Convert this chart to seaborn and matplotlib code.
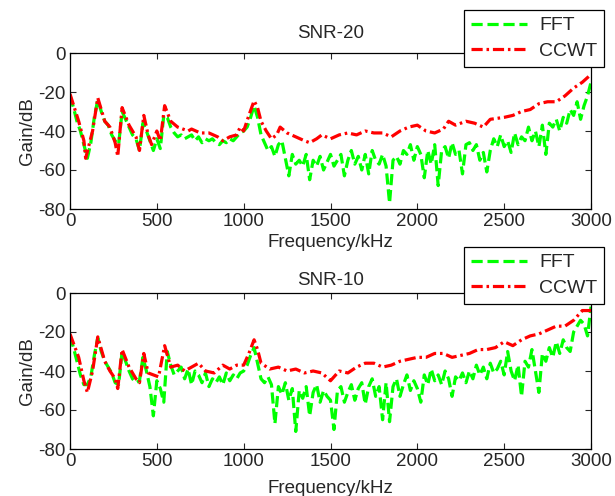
import numpy as np
import pandas as pd
import matplotlib
matplotlib.use("Agg")
import matplotlib.pyplot as plt
import seaborn as sns

# ---------------- data ----------------
freq_fft = list(range(0, 3001, 20))

fft_snr20 = [
    -22, -28, -35, -40, -47, -54, -46, -33, -24, -30,
    -35, -37, -42, -45, -47, -30, -34, -38, -42, -44,
    -50, -36, -40, -45, -50, -44, -49, -32, -33, -38,
    -41, -43, -42, -44, -43, -42, -45, -43, -46, -44,
    -45, -44, -46, -47, -45, -46, -44, -45, -43, -41,
    -40, -38, -33, -27, -33, -42, -46, -50, -48, -53,
    -47, -45, -54, -63, -52, -57, -55, -58, -52, -65,
    -55, -58, -53, -60, -56, -52, -58, -55, -52, -63,
    -55, -50, -57, -53, -60, -52, -62, -50, -55, -57,
    -52, -58, -77, -55, -53, -57, -50, -52, -47, -55,
    -48, -52, -64, -50, -57, -47, -68, -50, -48, -54,
    -46, -52, -50, -62, -47, -46, -50, -47, -55, -51,
    -61, -50, -44, -48, -42, -48, -45, -51, -41, -47,
    -43, -45, -38, -45, -40, -48, -37, -52, -36, -38,
    -34, -40, -33, -36, -29, -32, -25, -34, -27, -22,
    -15,
]

fft_snr10 = [
    -22, -28, -35, -42, -47, -47, -43, -32, -23, -30,
    -35, -38, -41, -46, -47, -30, -35, -40, -44, -46,
    -45, -33, -40, -48, -63, -45, -49, -56, -30, -37,
    -42, -40, -38, -44, -39, -47, -40, -42, -46, -41,
    -48, -44, -46, -43, -47, -41, -45, -42, -44, -41,
    -40, -37, -32, -28, -36, -44, -46, -43, -47, -67,
    -48, -52, -46, -55, -49, -71, -50, -54, -48, -63,
    -51, -47, -56, -50, -53, -55, -70, -50, -48, -56,
    -51, -47, -55, -49, -46, -57, -48, -44, -53, -48,
    -65, -46, -66, -48, -44, -53, -47, -42, -50, -45,
    -49, -56, -42, -47, -39, -45, -42, -47, -40, -44,
    -53, -43, -45, -41, -46, -40, -44, -37, -42, -38,
    -44, -36, -41, -39, -35, -42, -30, -40, -45, -37,
    -53, -35, -38, -29, -40, -51, -31, -35, -28, -33,
    -25, -31, -24, -28, -30, -20, -17, -14, -16, -22,
    -7,
]

freq_ccwt20 = [0, 50, 80, 90, 130, 160, 200, 230, 260, 275, 300, 340, 380, 400,
               425, 450, 470, 500, 520, 545, 580, 620, 680, 700, 750, 800, 850,
               880, 920, 960, 980, 1000, 1030, 1060, 1080, 1100, 1130, 1160,
               1190, 1210, 1250, 1300, 1350, 1380, 1420, 1450, 1500, 1550, 1600,
               1650, 1700, 1750, 1800, 1850, 1900, 1950, 2000, 2050, 2100, 2150,
               2180, 2220, 2280, 2330, 2380, 2420, 2500, 2550, 2600, 2650, 2700,
               2750, 2800, 2850, 2900, 2950, 3000]
ccwt_snr20 = [-21, -35, -45, -54, -40, -23, -35, -38, -46, -53, -28, -37, -43, -50,
              -32, -42, -47, -40, -45, -27, -35, -38, -40, -39, -41, -41, -43,
              -45, -43, -42, -38, -40, -32, -24.5, -28, -35, -40, -44,
              -42, -38, -41, -43, -45, -46, -44, -42, -44, -42, -41,
              -42, -40, -41, -41, -43, -40, -38, -37, -40, -41, -39,
              -35, -37, -35, -36, -38, -34, -33, -32, -30, -29, -26,
              -25, -25, -22, -18, -15, -11]

freq_ccwt10 = [0, 50, 80, 100, 130, 160, 200, 230, 260, 275, 300, 340, 380, 400,
               425, 450, 480, 510, 545, 580, 620, 660, 700, 740, 780, 830, 880,
               920, 960, 1000, 1030, 1060, 1080, 1100, 1150, 1200, 1250, 1300,
               1350, 1400, 1450, 1500, 1550, 1600, 1650, 1700, 1750, 1800, 1850,
               1900, 1950, 2000, 2050, 2100, 2150, 2200, 2250, 2300, 2350, 2400,
               2450, 2500, 2550, 2600, 2650, 2700, 2750, 2800, 2850, 2900, 2950,
               3000]
ccwt_snr10 = [-21, -33, -45, -51, -40, -22.5, -35, -40, -44, -49, -29, -38, -44, -46,
              -31, -41, -42, -43, -27, -38, -37, -40, -38, -36, -40, -41, -37,
              -39, -37, -37, -31, -24, -29, -36, -39, -38, -40, -39,
              -41, -40, -41, -45, -40, -41, -38, -36, -36, -38, -37,
              -35, -34, -33, -33, -31, -31, -33, -32, -31, -29, -29,
              -28, -25, -27, -24, -22, -21, -19, -17, -17, -14, -9,
              -9]

titles = ["SNR-20", "SNR-10"]
series_names = ["FFT", "CCWT"]
xticks = [0, 500, 1000, 1500, 2000, 2500, 3000]
yticks = [0, -20, -40, -60, -80]

# ---------------- style ----------------
sns.set_style("white")
plt.rcParams["font.family"] = ["Liberation Sans", "DejaVu Sans"]
plt.rcParams["font.size"] = 13

W, H = 615, 496
fig = plt.figure(figsize=(W / 100, H / 100), dpi=100)

panels = [
    (fft_snr20, freq_ccwt20, ccwt_snr20, 53, 209, 10),
    (fft_snr10, freq_ccwt10, ccwt_snr10, 293, 449, 247),
]

for i, (fft, fc, cc, ytop, ybot, legtop) in enumerate(panels):
    left = 70 / W
    width = (591 - 70) / W
    bottom = 1 - ybot / H
    height = (ybot - ytop) / H
    ax = fig.add_axes([left, bottom, width, height])
    df_fft = pd.DataFrame({"f": freq_fft, "g": fft})
    df_cc = pd.DataFrame({"f": fc, "g": cc})
    sns.lineplot(data=df_fft, x="f", y="g", ax=ax, color="#00ff00",
                 linestyle=(0, (3.5, 1.5)), linewidth=2.3, label=series_names[0])
    sns.lineplot(data=df_cc, x="f", y="g", ax=ax, color="#ff0000",
                 linestyle=(0, (3.5, 1.2, 0.8, 1.2)), linewidth=2.3, label=series_names[1])
    ax.set_xlim(0, 3000)
    ax.set_ylim(-80, 0)
    ax.set_xticks(xticks)
    ax.set_yticks(yticks)
    ax.set_xticklabels([str(t) for t in xticks], fontsize=13.5)
    ax.set_yticklabels([str(t) for t in yticks], fontsize=13.5)
    ax.tick_params(direction="in", length=4, width=0.8, top=True, right=True,
                   bottom=True, left=True, pad=3)
    for s in ax.spines.values():
        s.set_visible(True)
        s.set_color("black")
        s.set_linewidth(0.9)
    ax.set_xlabel("Frequency/kHz", fontsize=13.5, labelpad=3 if i == 0 else 7)
    ax.set_ylabel("Gain/dB", fontsize=13.5, labelpad=2)
    ax.set_title(titles[i], fontsize=13.5, pad=11 if i == 0 else 6)
    ax.get_legend().remove()
    handles, labels = ax.get_legend_handles_labels()
    leg = fig.legend(handles, labels, loc="upper right",
                     bbox_to_anchor=(604 / W, 1 - legtop / H),
                     bbox_transform=fig.transFigure, borderaxespad=0,
                     frameon=True, fancybox=False, framealpha=1,
                     edgecolor="black", fontsize=14, handlelength=2.9,
                     borderpad=0.35, labelspacing=0.4, handletextpad=0.6)
    leg.get_frame().set_linewidth(0.9)

fig.savefig("out.png", dpi=100)
